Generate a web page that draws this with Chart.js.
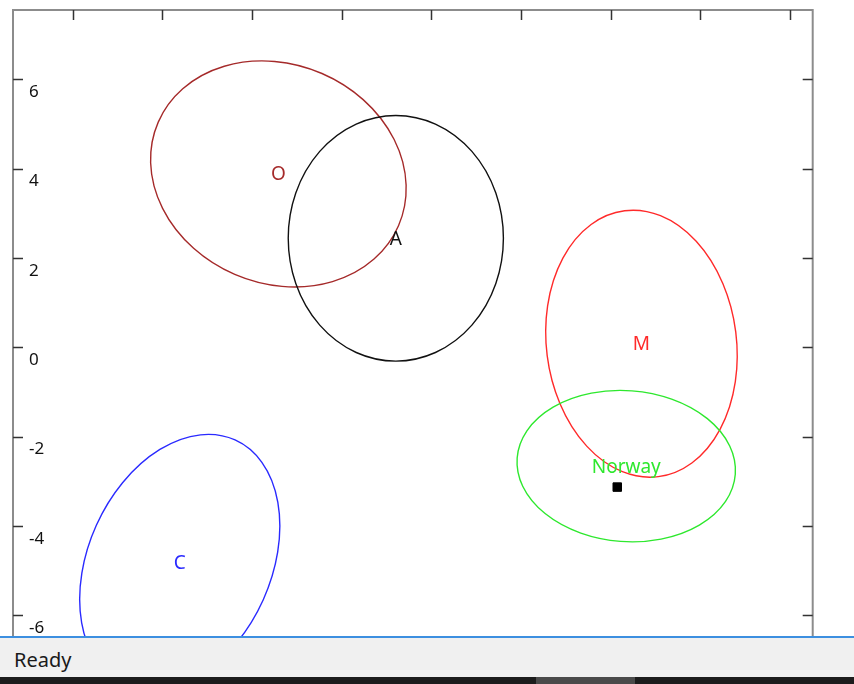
<!DOCTYPE html>
<html>
<head>
<meta charset="utf-8">
<script src="https://cdn.jsdelivr.net/npm/chart.js@4/dist/chart.umd.min.js"></script>
<style>
  html, body { margin: 0; padding: 0; background: #fff; width: 854px; height: 684px; overflow: hidden; }
  #wrap { position: absolute; left: 0; top: 0; width: 854px; height: 636px; overflow: hidden; }
  #status { position: absolute; left: 0; top: 636px; width: 854px; height: 41px; background: #f0f0f0; border-top: 2px solid #3c8fe0; box-sizing: border-box; }
  #status span { position: absolute; left: 14px; top: 8px; font: 20px "Noto Sans", sans-serif; color: #1a1a1a; }
  #taskbar { position: absolute; left: 0; top: 677px; width: 854px; height: 7px; background: #1c1c1c; }
  #taskbar div { position: absolute; left: 536px; top: 0; width: 99px; height: 7px; background: #4a4a4a; }
</style>
</head>
<body>
<div id="wrap"><canvas id="chart" width="854" height="667"></canvas></div>
<div id="status"><span>Ready</span></div>
<div id="taskbar"><div></div></div>
<script>
// данные
const groupNames = ["O", "A", "M", "Norway", "C"];
const centerX = [-3.41, -0.79, 4.69, 4.35, -5.61];
const centerY = [3.88, 2.44, 0.08, -2.66, -4.82];
const radiusA = [2.92, 2.40, 3.00, 2.44, 3.01];
const radiusB = [2.45, 2.75, 2.12, 1.69, 2.04];
const angleDeg = [-23.4, 0, -82.8, -4.3, 65.8];
const groupColors = ["#a52a2a", "#111111", "#ff2a2a", "#2ee82e", "#2a2aff"];

const pointX = [4.15];
const pointY = [-3.13];

const xTicks = [-8, -6, -4, -2, 0, 2, 4, 6, 8];
const yTicks = [-6, -4, -2, 0, 2, 4, 6];

const xMin = -9.33, xMax = 8.51;
const yMin = -7.0, yMax = 7.55;

const FONT = '"Noto Sans", sans-serif';

// рамка и внутренние засечки
const framePlugin = {
  id: "frame",
  beforeDatasetsDraw(chart) {
    const { ctx, chartArea: a, scales: { x, y } } = chart;
    ctx.save();
    ctx.strokeStyle = "#8c8c8c";
    ctx.lineWidth = 2;
    ctx.strokeRect(a.left, a.top, a.right - a.left, a.bottom - a.top);

    ctx.strokeStyle = "#333";
    ctx.lineWidth = 1.5;
    ctx.beginPath();
    for (const v of xTicks) {
      const px = Math.round(x.getPixelForValue(v)) + 0.5;
      ctx.moveTo(px, a.top); ctx.lineTo(px, a.top + 10);
      ctx.moveTo(px, a.bottom); ctx.lineTo(px, a.bottom - 10);
    }
    for (const v of yTicks) {
      const py = Math.round(y.getPixelForValue(v)) + 0.5;
      ctx.moveTo(a.left, py); ctx.lineTo(a.left + 10, py);
      ctx.moveTo(a.right, py); ctx.lineTo(a.right - 10, py);
    }
    ctx.stroke();
    ctx.restore();
  }
};

// эллипсы и подписи групп
const ellipsePlugin = {
  id: "ellipses",
  beforeDatasetsDraw(chart) {
    const { ctx, chartArea: a, scales: { x, y } } = chart;
    const sx = x.getPixelForValue(1) - x.getPixelForValue(0);
    const sy = y.getPixelForValue(0) - y.getPixelForValue(1);
    ctx.save();
    ctx.beginPath();
    ctx.rect(a.left, a.top, a.right - a.left, a.bottom - a.top);
    ctx.clip();
    for (let i = 0; i < groupNames.length; i++) {
      const cx = x.getPixelForValue(centerX[i]);
      const cy = y.getPixelForValue(centerY[i]);
      ctx.save();
      ctx.translate(cx, cy);
      ctx.scale(sx, -sy);
      ctx.rotate(angleDeg[i] * Math.PI / 180);
      ctx.beginPath();
      ctx.ellipse(0, 0, radiusA[i], radiusB[i], 0, 0, Math.PI * 2);
      ctx.restore();
      ctx.strokeStyle = groupColors[i];
      ctx.lineWidth = 1.4;
      ctx.stroke();

      ctx.fillStyle = groupColors[i];
      ctx.font = "19px " + FONT;
      ctx.textAlign = "center";
      ctx.textBaseline = "middle";
      ctx.fillText(groupNames[i], cx, cy + 1);
    }
    ctx.restore();
  }
};

new Chart(document.getElementById("chart"), {
  type: "scatter",
  data: {
    datasets: [{
      label: "Norway",
      data: pointX.map((v, i) => ({ x: v, y: pointY[i] })),
      pointStyle: "rect",
      pointRadius: 6,
      backgroundColor: "#000",
      borderColor: "#000",
      borderWidth: 1
    }]
  },
  options: {
    responsive: false,
    animation: false,
    layout: { padding: { left: 13, top: 10, right: 41.3, bottom: 0 } },
    plugins: { legend: { display: false }, tooltip: { enabled: false } },
    scales: {
      x: {
        type: "linear", min: xMin, max: xMax,
        afterBuildTicks: s => { s.ticks = xTicks.map(v => ({ value: v })); },
        afterFit: s => { s.height = 0; s.paddingLeft = 0; s.paddingRight = 0; },
        grid: { display: false, drawTicks: false }, border: { display: false },
        ticks: { display: false }
      },
      y: {
        type: "linear", min: yMin, max: yMax,
        afterBuildTicks: s => { s.ticks = yTicks.map(v => ({ value: v })); },
        afterFit: s => { s.width = 0; s.paddingTop = 0; s.paddingBottom = 0; },
        grid: { display: false, drawTicks: false }, border: { display: false },
        ticks: {
          mirror: true, padding: 16, labelOffset: 13,
          color: "#111", font: { family: FONT, size: 17 }
        }
      }
    }
  },
  plugins: [framePlugin, ellipsePlugin]
});
</script>
</body>
</html>
